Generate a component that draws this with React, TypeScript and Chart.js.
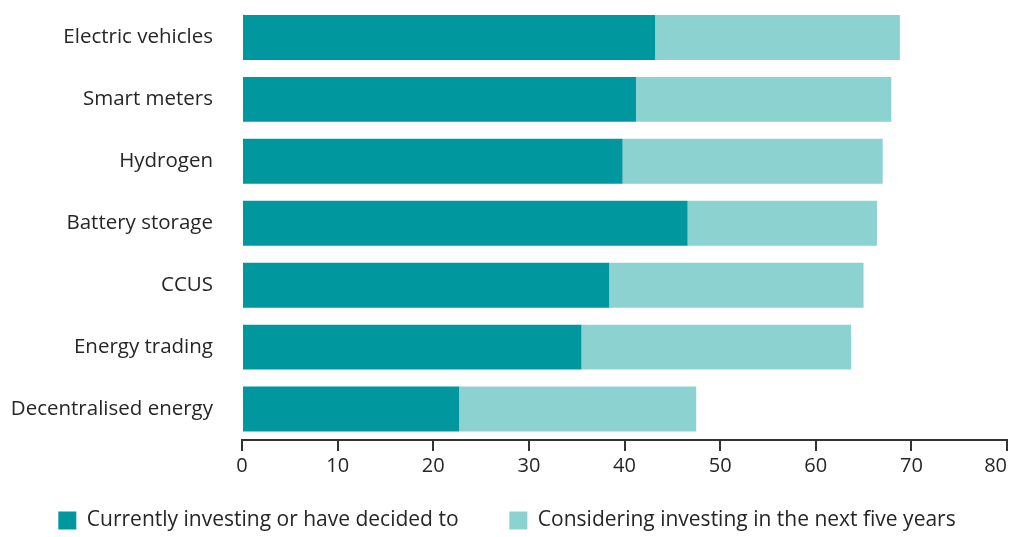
import React, { useEffect, useRef } from "react";
import { Chart, registerables } from "chart.js";

Chart.register(...registerables);

const categories = [
  "Electric vehicles",
  "Smart meters",
  "Hydrogen",
  "Battery storage",
  "CCUS",
  "Energy trading",
  "Decentralised energy",
];
const currentlyInvesting = [43.2, 41.2, 39.8, 46.6, 38.4, 35.5, 22.7];
const consideringInvesting = [25.6, 26.7, 27.2, 19.8, 26.6, 28.2, 24.8];
const seriesLabels = [
  "Currently investing or have decided to",
  "Considering investing in the next five years",
];
const xTicks = [0, 10, 20, 30, 40, 50, 60, 70, 80];

const DARK = "#00979f";
const LIGHT = "#8bd2d0";
const TEXT = "#262626";
const AXIS = "#333333";
const FONT = "'Open Sans', Lato, sans-serif";

// right-align the last x tick label to its tick (as in the reference)
const lastLabelAlign = {
  id: "lastLabelAlign",
  beforeDraw(chart: any) {
    const xs = chart.scales.x;
    if (!xs || !xs.getLabelItems) return;
    const items = xs.getLabelItems(chart.chartArea);
    if (!items || !items.length) return;
    const last = items[items.length - 1];
    last.options.textAlign = "right";
    last.options.translation = [
      xs.getPixelForValue(xTicks[xTicks.length - 1]),
      last.options.translation[1],
    ];
  },
};

export default function App() {
  const ref = useRef<HTMLCanvasElement | null>(null);

  useEffect(() => {
    if (!ref.current) return;
    const chart = new Chart(ref.current, {
      type: "bar",
      data: {
        labels: categories,
        datasets: [
          {
            label: seriesLabels[0],
            data: currentlyInvesting,
            backgroundColor: DARK,
            borderWidth: 0,
            categoryPercentage: 1,
            barPercentage: 0.726,
          },
          {
            label: seriesLabels[1],
            data: consideringInvesting,
            backgroundColor: LIGHT,
            borderWidth: 0,
            categoryPercentage: 1,
            barPercentage: 0.726,
          },
        ],
      },
      plugins: [lastLabelAlign],
      options: {
        indexAxis: "y",
        animation: false,
        responsive: true,
        maintainAspectRatio: false,
        layout: { padding: { top: 6.5, left: 0, right: 0, bottom: -4 } },
        plugins: {
          tooltip: { enabled: false },
          legend: {
            position: "bottom",
            labels: {
              boxWidth: 18,
              boxHeight: 18,
              padding: 29,
              color: TEXT,
              font: { family: FONT, size: 21 },
              generateLabels: (c: any) => {
                const items = Chart.defaults.plugins.legend.labels.generateLabels(c);
                // widen the gap between the two legend entries
                items[0].text = items[0].text + "    ";
                return items;
              },
            },
          },
        },
        scales: {
          x: {
            stacked: true,
            min: 0,
            max: 80,
            afterBuildTicks: (scale: any) => {
              scale.ticks = xTicks.map((v) => ({ value: v }));
            },
            afterFit: (scale: any) => {
              scale.paddingRight = 7;
            },
            grid: {
              display: true,
              drawOnChartArea: false,
              drawTicks: true,
              tickLength: 11,
              color: AXIS,
              lineWidth: 2,
            },
            border: { display: true, color: AXIS, width: 2 },
            ticks: {
              color: TEXT,
              padding: 3,
              autoSkip: false,
              font: { family: FONT, size: 20 },
              maxRotation: 0,
            },
          },
          y: {
            stacked: true,
            afterFit: (scale: any) => {
              scale.width = 242;
              scale.paddingTop = 0;
              scale.paddingBottom = 0;
            },
            grid: { display: false, drawTicks: false },
            border: { display: false },
            ticks: {
              color: TEXT,
              padding: 29,
              font: { family: FONT, size: 20.5 },
            },
          },
        },
      },
    });
    return () => chart.destroy();
  }, []);

  return (
    <div
      style={{
        position: "fixed",
        left: 0,
        top: 0,
        width: 1014,
        height: 537,
        background: "#fff",
      }}
    >
      <canvas ref={ref} />
    </div>
  );
}
